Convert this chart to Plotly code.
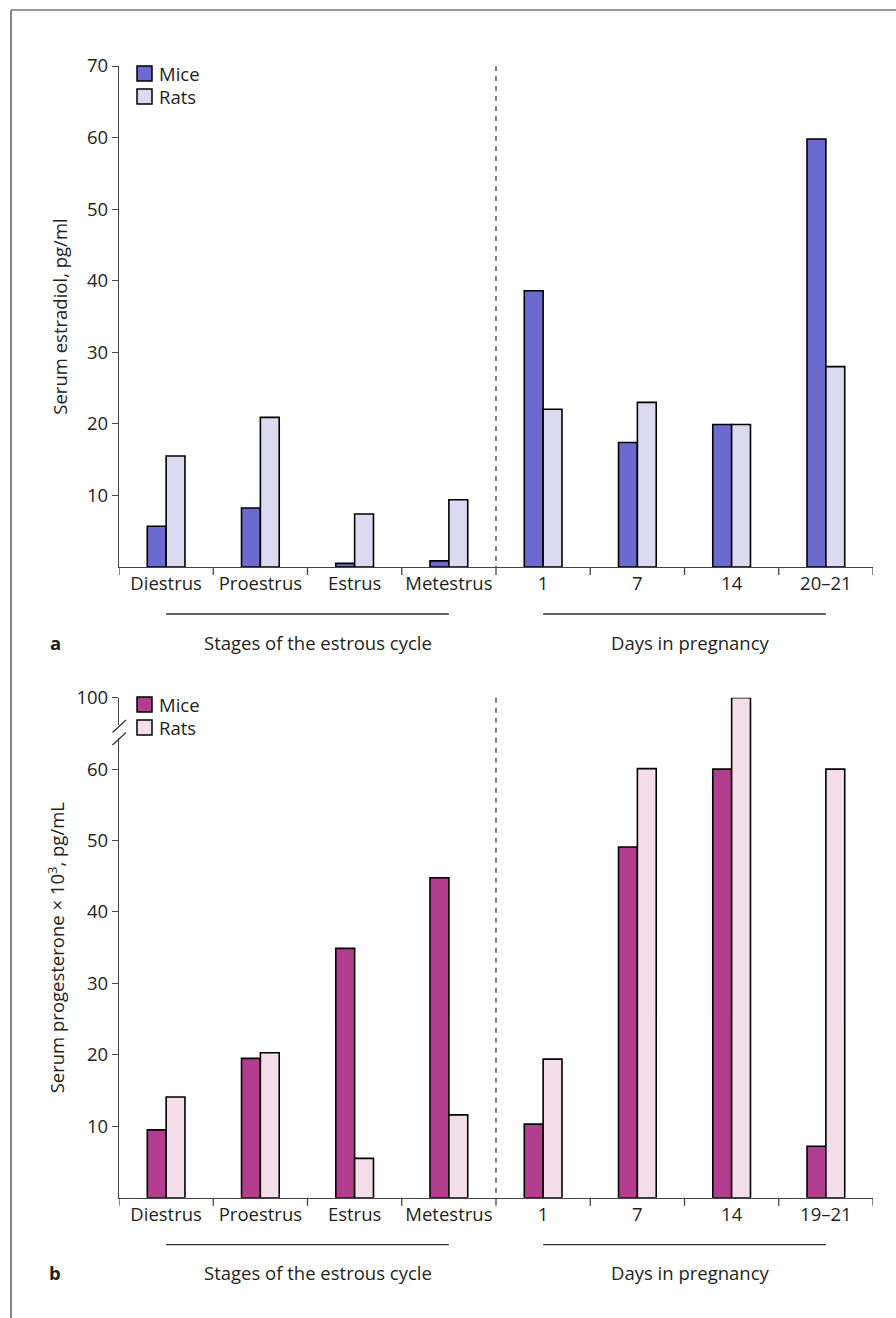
import plotly.graph_objects as go

categories = ["Diestrus", "Proestrus", "Estrus", "Metestrus", "1", "7", "14", "20–21"]
categories_b = ["Diestrus", "Proestrus", "Estrus", "Metestrus", "1", "7", "14", "19–21"]
estradiol_mice = [5.7, 8.25, 0.5, 0.85, 38.6, 17.4, 19.9, 59.8]
estradiol_rats = [15.5, 20.9, 7.4, 9.4, 22.05, 23.0, 19.9, 28.0]
progesterone_mice = [9.5, 19.5, 34.9, 44.8, 10.3, 49.1, 60.0, 7.2]
progesterone_rats = [14.1, 20.3, 5.5, 11.6, 19.4, 60.3, 100.0, 60.0]
ticks_a = [10, 20, 30, 40, 50, 60, 70]
ticks_b_values = [10, 20, 30, 40, 50, 60, 100]

W, H = 896, 1318
FONT = "Open Sans"
TXT = "#231f20"
AX = "#444444"
FS = 18.5


def px(x):
    return x / W


def py(y):
    return 1 - y / H


# axis break for panel b: values above 60 are compressed (60..100 -> 60..70)
def brk(v):
    return v if v <= 60 else 60 + (v - 60) * 0.25


xcat_a = list(range(len(categories)))

fig = go.Figure()
fig.add_trace(go.Bar(x=xcat_a, y=estradiol_mice, name="Mice", marker=dict(color="#6b6bcf", line=dict(color="black", width=1.6)),
                     xaxis="x", yaxis="y", showlegend=False))
fig.add_trace(go.Bar(x=xcat_a, y=estradiol_rats, name="Rats", marker=dict(color="#dcdaf1", line=dict(color="black", width=1.6)),
                     xaxis="x", yaxis="y", showlegend=False))
fig.add_trace(go.Bar(x=xcat_a, y=[brk(v) for v in progesterone_mice], name="Mice",
                     marker=dict(color="#b33d8f", line=dict(color="black", width=1.6)),
                     xaxis="x2", yaxis="y2", showlegend=False))
fig.add_trace(go.Bar(x=xcat_a, y=[brk(v) for v in progesterone_rats], name="Rats",
                     marker=dict(color="#f3dde9", line=dict(color="black", width=1.6)),
                     xaxis="x2", yaxis="y2", showlegend=False))

xdom = [px(119), px(873)]
common_x = dict(domain=xdom, range=[-0.5, 7.5], tickmode="array", tickvals=xcat_a,
                showline=True, linecolor=AX, linewidth=1.3, ticks="", showgrid=False, zeroline=False,
                automargin=False, tickfont=dict(family=FONT, size=FS, color=TXT))
fig.update_layout(
    template="none",
    xaxis=dict(common_x, anchor="y", ticktext=categories),
    xaxis2=dict(common_x, anchor="y2", ticktext=categories_b),
    yaxis=dict(domain=[py(567), py(66)], range=[0, 70], tickvals=ticks_a, ticktext=[str(t) for t in ticks_a],
               showline=True, linecolor=AX, linewidth=1.3, ticks="outside", ticklen=6, tickcolor=AX,
               showgrid=False, zeroline=False, anchor="x", automargin=False, tickfont=dict(family=FONT, size=FS, color=TXT),
               title=dict(text="Serum estradiol, pg/ml", font=dict(family=FONT, size=FS, color=TXT), standoff=14)),
    yaxis2=dict(domain=[py(1197.7), py(697.7)], range=[0, 70], tickvals=[brk(t) for t in ticks_b_values],
                ticktext=[str(t) for t in ticks_b_values],
                showline=True, linecolor=AX, linewidth=1.3, ticks="outside", ticklen=6, tickcolor=AX,
                showgrid=False, zeroline=False, anchor="x2", automargin=False, tickfont=dict(family=FONT, size=FS, color=TXT),
                title=dict(text="Serum progesterone × 10<sup>3</sup>, pg/mL", font=dict(family=FONT, size=FS, color=TXT), standoff=6)),
    barmode="group", bargap=0.6, bargroupgap=0,
    width=W, height=H, margin=dict(l=0, r=0, t=0, b=0, pad=0, autoexpand=False),
    paper_bgcolor="white", plot_bgcolor="white", showlegend=False,
    font=dict(family=FONT, color=TXT),
)

shapes = []
annotations = []
# frame
shapes.append(dict(type="line", xref="paper", yref="paper", x0=px(11), x1=1, y0=py(10), y1=py(10), line=dict(color="#333", width=1.2)))
shapes.append(dict(type="line", xref="paper", yref="paper", x0=px(11), x1=px(11), y0=py(10), y1=0, line=dict(color="#333", width=1.2)))

boundaries = [i - 0.5 for i in range(len(categories) + 1)]
panels = [
    dict(xref="x", top=66, base=567, mice="#6b6bcf", rats="#dcdaf1", lab="a", leg_y=66),
    dict(xref="x2", top=697.7, base=1197.7, mice="#b33d8f", rats="#f3dde9", lab="b", leg_y=697),
]
for p in panels:
    # x ticks at category boundaries
    for b in boundaries:
        shapes.append(dict(type="line", xref=p["xref"], yref="paper", x0=b, x1=b, y0=py(p["base"]), y1=py(p["base"] + 8),
                           line=dict(color=AX, width=1.3)))
    # dashed divider
    shapes.append(dict(type="line", xref=p["xref"], yref="paper", x0=3.5, x1=3.5, y0=py(p["top"]), y1=py(p["base"]),
                       line=dict(color="#333", width=1.2, dash="5px,5px")))
    # group lines
    gy = p["base"] + 47
    shapes.append(dict(type="line", xref=p["xref"], yref="paper", x0=0, x1=3, y0=py(gy), y1=py(gy), line=dict(color="#333", width=1.3)))
    shapes.append(dict(type="line", xref=p["xref"], yref="paper", x0=4, x1=7, y0=py(gy), y1=py(gy), line=dict(color="#333", width=1.3)))
    ty = p["base"] + 75
    annotations.append(dict(xref="paper", yref="paper", x=px(318), y=py(ty), text="Stages of the estrous cycle", showarrow=False,
                            font=dict(family=FONT, size=FS, color=TXT), xanchor="center", yanchor="middle"))
    annotations.append(dict(xref="paper", yref="paper", x=px(690), y=py(ty), text="Days in pregnancy", showarrow=False,
                            font=dict(family=FONT, size=FS, color=TXT), xanchor="center", yanchor="middle"))
    annotations.append(dict(xref="paper", yref="paper", x=px(55), y=py(ty), text="<b>" + p["lab"] + "</b>", showarrow=False,
                            font=dict(family=FONT, size=FS, color=TXT), xanchor="center", yanchor="middle"))
    # legend
    ly = p["leg_y"]
    for i, (name, col) in enumerate([("Mice", p["mice"]), ("Rats", p["rats"])]):
        y0 = ly + i * 23
        shapes.append(dict(type="rect", xref="paper", yref="paper", x0=px(137), x1=px(152), y0=py(y0), y1=py(y0 + 15),
                           fillcolor=col, line=dict(color="black", width=1.5)))
        annotations.append(dict(xref="paper", yref="paper", x=px(157), y=py(y0 + 7.5), text=name, showarrow=False,
                                font=dict(family=FONT, size=FS, color=TXT), xanchor="left", yanchor="middle",
                                height=21, valign="middle"))

# axis break marks on panel b
shapes.append(dict(type="rect", xref="paper", yref="paper", x0=px(115), x1=px(123), y0=py(738), y1=py(725),
                   fillcolor="white", line=dict(width=0), layer="above"))
shapes.append(dict(type="line", xref="paper", yref="paper", x0=px(112.5), x1=px(126), y0=py(732.5), y1=py(720),
                   line=dict(color="#333", width=1.2)))
shapes.append(dict(type="line", xref="paper", yref="paper", x0=px(112.5), x1=px(126), y0=py(745), y1=py(732.5),
                   line=dict(color="#333", width=1.2)))

fig.update_layout(shapes=shapes, annotations=annotations)
post = (
    "document.documentElement.style.margin='0';document.body.style.margin='0';"
    "document.documentElement.style.overflow='hidden';document.body.style.overflow='hidden';"
    "var d=document.getElementById('{plot_id}');d.style.position='absolute';d.style.top='0px';d.style.left='0px';"
)
fig.write_html("out.html", config={"displayModeBar": False}, post_script=post)
